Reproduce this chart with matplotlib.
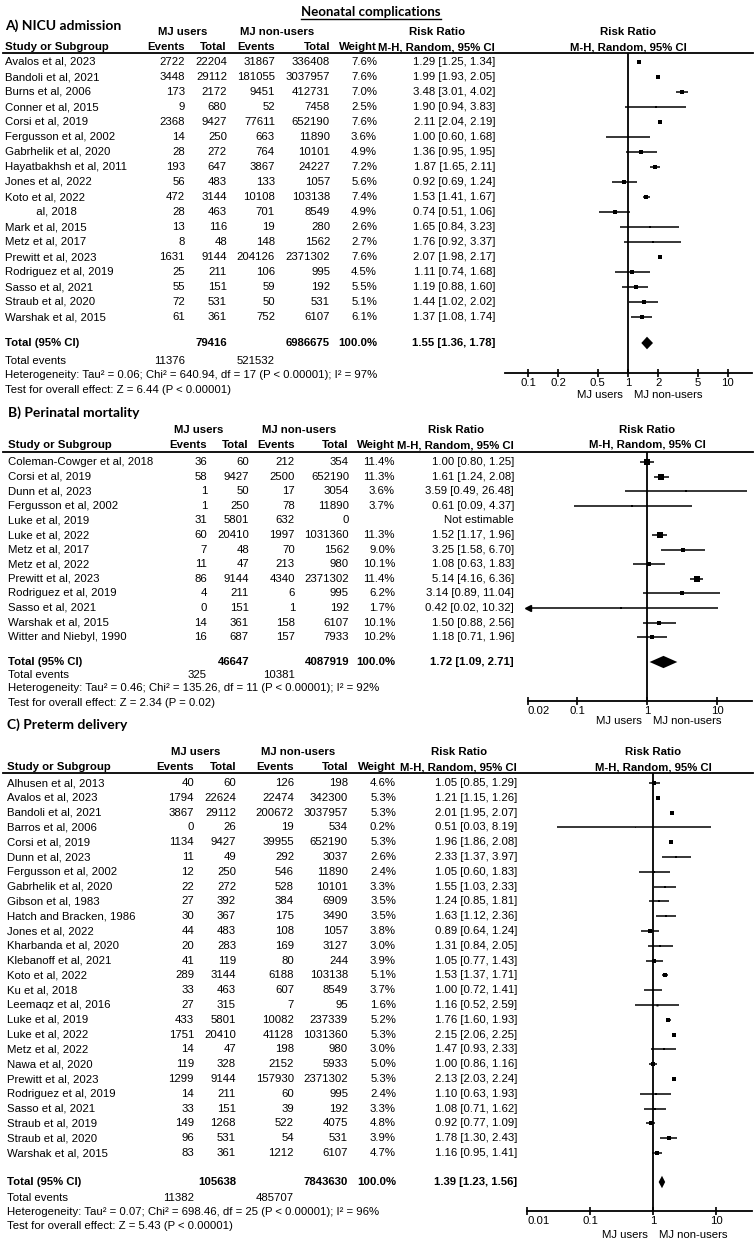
import numpy as np
import matplotlib.pyplot as plt
from matplotlib.ticker import NullLocator

plt.rcParams['font.family'] = ['Liberation Sans', 'DejaVu Sans']

W, H = 756, 1242
FS = 8.2
TITLE_FONT = ['Lato', 'DejaVu Sans']

# ---------------- A) NICU admission ----------------
a_names = ["Avalos et al, 2023", "Bandoli et al, 2021", "Burns et al, 2006", "Conner et al, 2015",
           "Corsi et al, 2019", "Fergusson et al, 2002", "Gabrhelik et al, 2020",
           "Hayatbakhsh et al, 2011", "Jones et al, 2022", "Koto et al, 2022",
           "          al, 2018", "Mark et al, 2015", "Metz et al, 2017", "Prewitt et al, 2023",
           "Rodriguez et al, 2019", "Sasso et al, 2021", "Straub et al, 2020", "Warshak et al, 2015"]
a_ev1 = [2722, 3448, 173, 9, 2368, 14, 28, 193, 56, 472, 28, 13, 8, 1631, 25, 55, 72, 61]
a_tot1 = [22204, 29112, 2172, 680, 9427, 250, 272, 647, 483, 3144, 463, 116, 48, 9144, 211, 151, 531, 361]
a_ev2 = [31867, 181055, 9451, 52, 77611, 663, 764, 3867, 133, 10108, 701, 19, 148, 204126, 106, 59, 50, 752]
a_tot2 = [336408, 3037957, 412731, 7458, 652190, 11890, 10101, 24227, 1057, 103138, 8549, 280, 1562,
          2371302, 995, 192, 531, 6107]
a_weight = [7.6, 7.6, 7.0, 2.5, 7.6, 3.6, 4.9, 7.2, 5.6, 7.4, 4.9, 2.6, 2.7, 7.6, 4.5, 5.5, 5.1, 6.1]
a_rr = [1.29, 1.99, 3.48, 1.90, 2.11, 1.00, 1.36, 1.87, 0.92, 1.53, 0.74, 1.65, 1.76, 2.07, 1.11, 1.19, 1.44, 1.37]
a_lo = [1.25, 1.93, 3.01, 0.94, 2.04, 0.60, 0.95, 1.65, 0.69, 1.41, 0.51, 0.84, 0.92, 1.98, 0.74, 0.88, 1.02, 1.08]
a_hi = [1.34, 2.05, 4.02, 3.83, 2.19, 1.68, 1.95, 2.11, 1.24, 1.67, 1.06, 3.23, 3.37, 2.17, 1.68, 1.60, 2.02, 1.74]
a_totals = [79416, 6986675]
a_events = [11376, 521532]
a_pooled = [1.55, 1.36, 1.78]
a_het = "Heterogeneity: Tau² = 0.06; Chi² = 640.94, df = 17 (P < 0.00001); I² = 97%"
a_test = "Test for overall effect: Z = 6.44 (P < 0.00001)"
a_ticks = [0.1, 0.2, 0.5, 1, 2, 5, 10]

# ---------------- B) Perinatal mortality ----------------
b_names = ["Coleman-Cowger et al, 2018", "Corsi et al, 2019", "Dunn et al, 2023", "Fergusson et al, 2002",
           "Luke et al, 2019", "Luke et al, 2022", "Metz et al, 2017", "Metz et al, 2022",
           "Prewitt et al, 2023", "Rodriguez et al, 2019", "Sasso et al, 2021", "Warshak et al, 2015",
           "Witter and Niebyl, 1990"]
b_ev1 = [36, 58, 1, 1, 31, 60, 7, 11, 86, 4, 0, 14, 16]
b_tot1 = [60, 9427, 50, 250, 5801, 20410, 48, 47, 9144, 211, 151, 361, 687]
b_ev2 = [212, 2500, 17, 78, 632, 1997, 70, 213, 4340, 6, 1, 158, 157]
b_tot2 = [354, 652190, 3054, 11890, 0, 1031360, 1562, 980, 2371302, 995, 192, 6107, 7933]
b_weight = [11.4, 11.3, 3.6, 3.7, None, 11.3, 9.0, 10.1, 11.4, 6.2, 1.7, 10.1, 10.2]
b_rr = [1.00, 1.61, 3.59, 0.61, None, 1.52, 3.25, 1.08, 5.14, 3.14, 0.42, 1.50, 1.18]
b_lo = [0.80, 1.24, 0.49, 0.09, None, 1.17, 1.58, 0.63, 4.16, 0.89, 0.02, 0.88, 0.71]
b_hi = [1.25, 2.08, 26.48, 4.37, None, 1.96, 6.70, 1.83, 6.36, 11.04, 10.32, 2.56, 1.96]
b_totals = [46647, 4087919]
b_events = [325, 10381]
b_pooled = [1.72, 1.09, 2.71]
b_het = "Heterogeneity: Tau² = 0.46; Chi² = 135.26, df = 11 (P < 0.00001); I² = 92%"
b_test = "Test for overall effect: Z = 2.34 (P = 0.02)"
b_ticks = [0.02, 0.1, 1, 10]

# ---------------- C) Preterm delivery ----------------
c_names = ["Alhusen et al, 2013", "Avalos et al, 2023", "Bandoli et al, 2021", "Barros et al, 2006",
           "Corsi et al, 2019", "Dunn et al, 2023", "Fergusson et al, 2002", "Gabrhelik et al, 2020",
           "Gibson et al, 1983", "Hatch and Bracken, 1986", "Jones et al, 2022", "Kharbanda et al, 2020",
           "Klebanoff et al, 2021", "Koto et al, 2022", "Ku et al, 2018", "Leemaqz et al, 2016",
           "Luke et al, 2019", "Luke et al, 2022", "Metz et al, 2022", "Nawa et al, 2020",
           "Prewitt et al, 2023", "Rodriguez et al, 2019", "Sasso et al, 2021", "Straub et al, 2019",
           "Straub et al, 2020", "Warshak et al, 2015"]
c_ev1 = [40, 1794, 3867, 0, 1134, 11, 12, 22, 27, 30, 44, 20, 41, 289, 33, 27, 433, 1751, 14, 119,
         1299, 14, 33, 149, 96, 83]
c_tot1 = [60, 22624, 29112, 26, 9427, 49, 250, 272, 392, 367, 483, 283, 119, 3144, 463, 315, 5801,
          20410, 47, 328, 9144, 211, 151, 1268, 531, 361]
c_ev2 = [126, 22474, 200672, 19, 39955, 292, 546, 528, 384, 175, 108, 169, 80, 6188, 607, 7, 10082,
         41128, 198, 2152, 157930, 60, 39, 522, 54, 1212]
c_tot2 = [198, 342300, 3037957, 534, 652190, 3037, 11890, 10101, 6909, 3490, 1057, 3127, 244, 103138,
          8549, 95, 237339, 1031360, 980, 5933, 2371302, 995, 192, 4075, 531, 6107]
c_weight = [4.6, 5.3, 5.3, 0.2, 5.3, 2.6, 2.4, 3.3, 3.5, 3.5, 3.8, 3.0, 3.9, 5.1, 3.7, 1.6, 5.2, 5.3,
            3.0, 5.0, 5.3, 2.4, 3.3, 4.8, 3.9, 4.7]
c_rr = [1.05, 1.21, 2.01, 0.51, 1.96, 2.33, 1.05, 1.55, 1.24, 1.63, 0.89, 1.31, 1.05, 1.53, 1.00, 1.16,
        1.76, 2.15, 1.47, 1.00, 2.13, 1.10, 1.08, 0.92, 1.78, 1.16]
c_lo = [0.85, 1.15, 1.95, 0.03, 1.86, 1.37, 0.60, 1.03, 0.85, 1.12, 0.64, 0.84, 0.77, 1.37, 0.72, 0.52,
        1.60, 2.06, 0.93, 0.86, 2.03, 0.63, 0.71, 0.77, 1.30, 0.95]
c_hi = [1.29, 1.26, 2.07, 8.19, 2.08, 3.97, 1.83, 2.33, 1.81, 2.36, 1.24, 2.05, 1.43, 1.71, 1.41, 2.59,
        1.93, 2.25, 2.33, 1.16, 2.24, 1.93, 1.62, 1.09, 2.43, 1.41]
c_totals = [105638, 7843630]
c_events = [11382, 485707]
c_pooled = [1.39, 1.23, 1.56]
c_het = "Heterogeneity: Tau² = 0.07; Chi² = 698.46, df = 25 (P < 0.00001); I² = 96%"
c_test = "Test for overall effect: Z = 5.43 (P < 0.00001)"
c_ticks = [0.01, 0.1, 1, 10]

# layout of each panel in pixels
lay_a = dict(title_y=26, head1=32, head2=47, line=53, row0=62, step=15.0, total=343, ev=361,
             het=375, test=390, axis=373, name_x=5, cols=[185, 227, 275, 330, 377, 495],
             users_c=183, non_c=277, x0=505, x1=752, xlim=(0.0589, 17.4), lab_off=16)
lay_b = dict(title_y=413, head1=430, head2=445, line=452, row0=462, step=14.6, total=662, ev=675,
             het=688, test=703, axis=701, name_x=8, cols=[207, 249, 295, 349, 395, 514],
             users_c=199, non_c=299, x0=528, x1=752, xlim=(0.02, 31.6), lab_off=14.5)
lay_c = dict(title_y=725, head1=752, head2=767, line=773, row0=783, step=14.8, total=1182, ev=1198,
             het=1212, test=1226, axis=1211, name_x=7, cols=[194, 236, 294, 348, 396, 517],
             users_c=196, non_c=298, x0=527, x1=752, xlim=(0.01, 37.3), lab_off=17)

fig = plt.figure(figsize=(W / 100, H / 100), dpi=100)
tax = fig.add_axes([0, 0, 1, 1])
tax.set_xlim(0, W)
tax.set_ylim(H, 0)
tax.axis('off')


def draw_panel(title, names, ev1, tot1, ev2, tot2, weight, rr, lo, hi,
               totals, events, pooled, het, test, ticks, L):
    c = L['cols']
    nx = L['name_x']
    reg = dict(fontsize=FS, va='center')
    bold = dict(fontsize=FS, va='center', fontweight='bold')

    tax.text(nx, L['title_y'], title, fontsize=10, fontweight='bold', family=TITLE_FONT, va='center')

    # table header
    tax.text(L['users_c'], L['head1'], 'MJ users', ha='center', **bold)
    tax.text(L['non_c'], L['head1'], 'MJ non-users', ha='center', **bold)
    tax.text(c[5] - 58, L['head1'], 'Risk Ratio', ha='center', **bold)
    tax.text(nx, L['head2'], 'Study or Subgroup', ha='left', **bold)
    for x, s in zip(c, ['Events', 'Total', 'Events', 'Total', 'Weight', 'M-H, Random, 95% CI']):
        tax.text(x, L['head2'], s, ha='right', **bold)
    tax.plot([3, 753], [L['line'], L['line']], color='black', lw=1.3)

    # study rows
    for i, nm in enumerate(names):
        y = L['row0'] + i * L['step']
        tax.text(nx, y, nm, ha='left', **reg)
        tax.text(c[0], y, str(ev1[i]), ha='right', **reg)
        tax.text(c[1], y, str(tot1[i]), ha='right', **reg)
        tax.text(c[2], y, str(ev2[i]), ha='right', **reg)
        tax.text(c[3], y, str(tot2[i]), ha='right', **reg)
        if rr[i] is None:
            tax.text(c[5], y, 'Not estimable', ha='right', **reg)
        else:
            tax.text(c[4], y, f"{weight[i]:.1f}%", ha='right', **reg)
            tax.text(c[5], y, f"{rr[i]:.2f} [{lo[i]:.2f}, {hi[i]:.2f}]", ha='right', **reg)

    # totals
    tax.text(nx, L['total'], 'Total (95% CI)', ha='left', **bold)
    tax.text(c[1], L['total'], str(totals[0]), ha='right', **bold)
    tax.text(c[3], L['total'], str(totals[1]), ha='right', **bold)
    tax.text(c[4], L['total'], '100.0%', ha='right', **bold)
    tax.text(c[5], L['total'], f"{pooled[0]:.2f} [{pooled[1]:.2f}, {pooled[2]:.2f}]", ha='right', **bold)
    tax.text(nx, L['ev'], 'Total events', ha='left', **reg)
    tax.text(c[0], L['ev'], str(events[0]), ha='right', **reg)
    tax.text(c[2], L['ev'], str(events[1]), ha='right', **reg)
    tax.text(nx, L['het'], het, ha='left', **reg)
    tax.text(nx, L['test'], test, ha='left', **reg)

    # forest plot
    x0, x1 = L['x0'], L['x1']
    ax = fig.add_axes([x0 / W, 1 - L['axis'] / H, (x1 - x0) / W, (L['axis'] - L['line']) / H])
    ax.set_xscale('log')
    ax.set_xlim(*L['xlim'])
    ax.set_ylim((L['axis'] - L['row0']) / L['step'], (L['line'] - L['row0']) / L['step'])
    ax.patch.set_alpha(0)
    xmin = L['xlim'][0]
    for i in range(len(names)):
        if rr[i] is None:
            continue
        ax.plot([max(lo[i], xmin), hi[i]], [i, i], color='black', lw=1.1, solid_capstyle='butt')
        if lo[i] <= xmin:
            ax.plot([xmin], [i], marker='<', ms=4.5, color='black', clip_on=False)
        ax.plot([rr[i]], [i], marker='s', ms=1.12 * np.sqrt(weight[i]), color='black', mew=0)
    ty = (L['total'] - L['row0']) / L['step']
    ax.fill([pooled[1], pooled[0], pooled[2], pooled[0]], [ty, ty - 0.42, ty, ty + 0.42],
            color='black', lw=0)
    ax.axvline(1, color='black', lw=1.3)
    for sp in ['top', 'left', 'right']:
        ax.spines[sp].set_visible(False)
    ax.spines['bottom'].set_linewidth(1.3)
    ax.set_yticks([])
    ax.set_xticks(ticks)
    ax.set_xticklabels([f"{t:g}" for t in ticks])
    ax.xaxis.set_minor_locator(NullLocator())
    ax.tick_params(axis='x', direction='inout', length=6, width=1.2, pad=0.5, labelsize=FS)
    if ticks[0] <= xmin * 1.001:
        ax.get_xticklabels()[0].set_ha('left')

    # forest header and direction labels
    ax.annotate('Risk Ratio', xy=(1, 1), xycoords=('data', 'axes fraction'),
                xytext=(0, (L['line'] - L['head1']) * 0.72), textcoords='offset points',
                ha='center', **bold)
    ax.annotate('M-H, Random, 95% CI', xy=(1, 1), xycoords=('data', 'axes fraction'),
                xytext=(0, (L['line'] - L['head2']) * 0.72), textcoords='offset points',
                ha='center', **bold)
    ax.annotate('MJ users', xy=(1, 0), xycoords=('data', 'axes fraction'),
                xytext=(-4, -L['lab_off']), textcoords='offset points', ha='right', **reg)
    ax.annotate('MJ non-users', xy=(1, 0), xycoords=('data', 'axes fraction'),
                xytext=(4, -L['lab_off']), textcoords='offset points', ha='left', **reg)


draw_panel('A) NICU admission', a_names, a_ev1, a_tot1, a_ev2, a_tot2, a_weight, a_rr, a_lo, a_hi,
           a_totals, a_events, a_pooled, a_het, a_test, a_ticks, lay_a)
draw_panel('B) Perinatal mortality', b_names, b_ev1, b_tot1, b_ev2, b_tot2, b_weight, b_rr, b_lo, b_hi,
           b_totals, b_events, b_pooled, b_het, b_test, b_ticks, lay_b)
draw_panel('C) Preterm delivery', c_names, c_ev1, c_tot1, c_ev2, c_tot2, c_weight, c_rr, c_lo, c_hi,
           c_totals, c_events, c_pooled, c_het, c_test, c_ticks, lay_c)

# overall title, underlined
t = tax.text(371, 12, 'Neonatal complications', ha='center', va='center', fontsize=9.5,
             fontweight='bold', family=TITLE_FONT)
fig.canvas.draw()
bb = t.get_window_extent().transformed(tax.transData.inverted())
tax.plot([bb.x0, bb.x1], [max(bb.y0, bb.y1) + 1, max(bb.y0, bb.y1) + 1], color='black', lw=1.0)

fig.savefig('out.png', dpi=100)
